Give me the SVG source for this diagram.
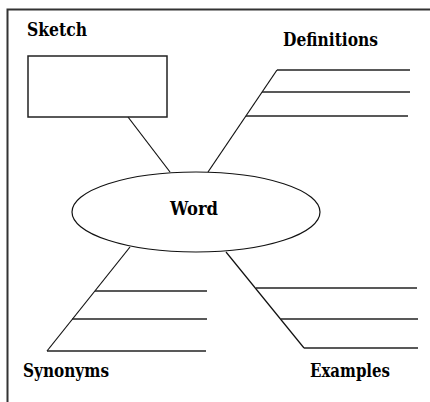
<svg xmlns="http://www.w3.org/2000/svg" width="430" height="402" viewBox="0 0 430 402">
<style>
.ln{stroke:#111;stroke-width:1.2;fill:none}
.hl{stroke:#222;stroke-width:1.5;fill:none}
.lbl{font-family:'DejaVu Serif',serif;font-weight:700;font-size:18.5px;fill:#000}
</style>
<rect width="430" height="402" fill="#fff"/>
<path d="M7.5 402 V9.5 H430" fill="none" stroke="#333" stroke-width="2"/>
<g id="connectors">
<line class="ln" x1="128" y1="117" x2="170" y2="172"/>
<line class="ln" x1="208" y1="172" x2="277" y2="70"/>
<line class="ln" x1="130" y1="247" x2="47" y2="351"/>
<line class="ln" x1="226" y1="252" x2="304" y2="348"/>
</g>
<g id="word">
<ellipse cx="196" cy="212" rx="124" ry="40" class="ln"/>
<text class="lbl" x="170" y="214.5" textLength="48" lengthAdjust="spacingAndGlyphs">Word</text>
</g>
<g id="sketch">
<rect x="28" y="56" width="139" height="61" class="hl"/>
<text class="lbl" x="27" y="36" textLength="60" lengthAdjust="spacingAndGlyphs">Sketch</text>
</g>
<g id="definitions">
<line class="hl" x1="277" y1="70" x2="410" y2="70"/>
<line class="hl" x1="262" y1="92" x2="410" y2="92"/>
<line class="hl" x1="246" y1="116" x2="408" y2="116"/>
<text class="lbl" x="283" y="46" textLength="95" lengthAdjust="spacingAndGlyphs">Definitions</text>
</g>
<g id="synonyms">
<line class="hl" x1="95" y1="291" x2="207" y2="291"/>
<line class="hl" x1="72" y1="319" x2="207" y2="319"/>
<line class="hl" x1="47" y1="351" x2="206" y2="351"/>
<text class="lbl" x="23" y="377" textLength="86" lengthAdjust="spacingAndGlyphs">Synonyms</text>
</g>
<g id="examples">
<line class="hl" x1="256" y1="288" x2="417" y2="288"/>
<line class="hl" x1="281" y1="319" x2="418" y2="319"/>
<line class="hl" x1="304" y1="348" x2="418" y2="348"/>
<text class="lbl" x="310" y="377" textLength="80" lengthAdjust="spacingAndGlyphs">Examples</text>
</g>
</svg>
